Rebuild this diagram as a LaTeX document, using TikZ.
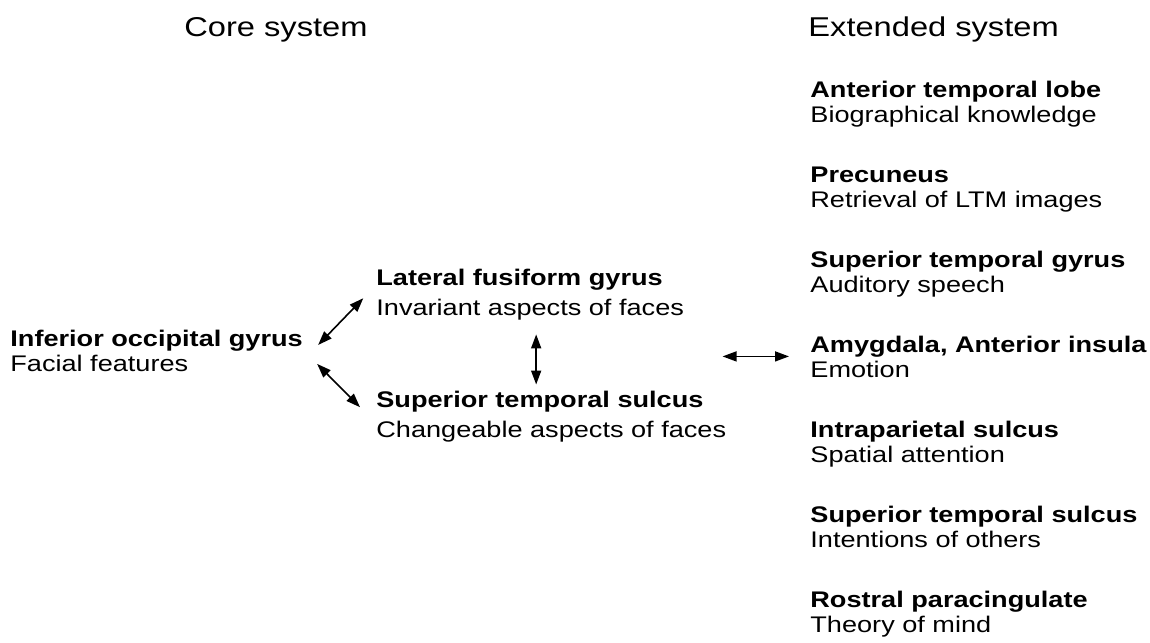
\documentclass[tikz,border=0pt]{standalone}
\usepackage{fontspec}
\setmainfont{Liberation Sans}[FakeStretch=1.2]
\usetikzlibrary{positioning,arrows.meta}

\begin{document}
\begin{tikzpicture}[
    x=0.5pt,y=-0.5pt,
    head/.style={inner sep=0pt,anchor=base west,font=\fontsize{13.6}{16}\selectfont},
    region/.style={align=left,inner sep=0pt,anchor=base west,font=\fontsize{11.3}{12.5}\selectfont},
    core/.style={region,font=\fontsize{11.3}{14.75}\selectfont},
    biarrow/.style={{Triangle[length=7pt,width=5pt]}-{Triangle[length=7pt,width=5pt]},line width=0.8pt},
    node distance=42.5pt
]
    \useasboundingbox (0,0) rectangle (1150,642);

    \node[head] (corehead) at (184,37) {Core system};
    \node[head] (exthead) at (808,37) {Extended system};

    \node[region] (iog) at (10,371) {\textbf{Inferior occipital gyrus}\\Facial features};
    \node[core] (lfg) at (376,315) {\textbf{Lateral fusiform gyrus}\\Invariant aspects of faces};
    \node[core,below=61pt of lfg.base west,anchor=base west] (sts) {\textbf{Superior temporal sulcus}\\Changeable aspects of faces};

    \node[region] (atl) at (810,122) {\textbf{Anterior temporal lobe}\\Biographical knowledge};
    \node[region,below=of atl.base west,anchor=base west] (prc) {\textbf{Precuneus}\\Retrieval of LTM images};
    \node[region,below=of prc.base west,anchor=base west] (stg) {\textbf{Superior temporal gyrus}\\Auditory speech};
    \node[region,below=of stg.base west,anchor=base west] (amy) {\textbf{Amygdala, Anterior insula}\\Emotion};
    \node[region,below=of amy.base west,anchor=base west] (ips) {\textbf{Intraparietal sulcus}\\Spatial attention};
    \node[region,below=of ips.base west,anchor=base west] (xsts) {\textbf{Superior temporal sulcus}\\Intentions of others};
    \node[region,below=of xsts.base west,anchor=base west] (rpc) {\textbf{Rostral paracingulate}\\Theory of mind};

    \draw[biarrow] ([xshift=7.5pt,yshift=2.75pt]iog.east) -- ([xshift=-6.35pt,yshift=-1.9pt]lfg.west);
    \draw[biarrow] ([xshift=7pt,yshift=-6.75pt]iog.east) -- ([xshift=-8pt,yshift=4.6pt]sts.west);
    \draw[biarrow,shorten <=7.15pt,shorten >=3.1pt] ([xshift=3pt]lfg.south) -- ([xshift=3pt]lfg.south |- sts.north);
    \draw[biarrow,shorten >=10.5pt] ([xshift=-2pt]sts.east |- amy.west) -- (amy.west);
\end{tikzpicture}
\end{document}
